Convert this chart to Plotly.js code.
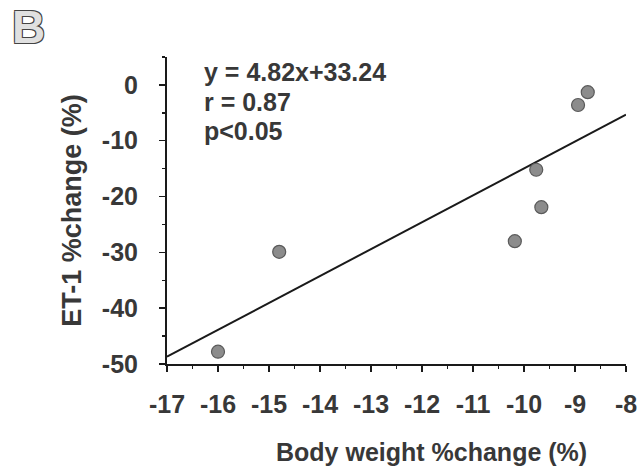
<!DOCTYPE html>
<html>
<head>
<meta charset="utf-8">
<script src="https://cdn.plot.ly/plotly-3.0.1.min.js"></script>
<style>html,body{margin:0;padding:0;background:#fff;}#chart{width:637px;height:469px;}</style>
</head>
<body>
<div id="chart"></div>
<script>
// Data
const bodyWeightChange = [-16.0, -14.8, -10.18, -9.76, -9.66, -8.94, -8.75];
const et1Change = [-47.8, -29.9, -28.0, -15.2, -21.9, -3.6, -1.3];
const fitSlope = [4.82];
const fitIntercept = [33.24];
const fitXRange = [-17, -8];
const statsLines = ["y = 4.82x+33.24", "r = 0.87", "p<0.05"];
const xTickVals = [-17, -16, -15, -14, -13, -12, -11, -10, -9, -8];
const xTickText = ["-17", "-16", "-15", "-14", "-13", "-12", "-11", "-10", "-9", "-8"];
const yTickVals = [0, -10, -20, -30, -40, -50];
const yTickText = ["0", "-10", "-20", "-30", "-40", "-50"];
const xTitle = "Body weight %change (%)";
const yTitle = "ET-1 %change (%)";
const panelLabel = "B";

const fitY = fitXRange.map(x => fitSlope[0] * x + fitIntercept[0]);
const FONT = "Liberation Sans, Arial, sans-serif";
const TXT = "#383838";
const PW = 459, PH = 307, L = 167, T = 57;

const traces = [
  {x: fitXRange, y: fitY, mode: "lines", type: "scatter",
   line: {color: "#1a1a1a", width: 2}, hoverinfo: "skip", showlegend: false},
  {x: bodyWeightChange, y: et1Change, mode: "markers", type: "scatter",
   marker: {size: 13, color: "#8c8c8c", line: {color: "#5a5a5a", width: 1.2}},
   showlegend: false}
];

const annotations = statsLines.map((t, i) => ({
  text: t, xref: "paper", yref: "paper", x: (202 - L) / PW, y: 1 - (72 + i * 29.5 - T) / PH,
  xanchor: "left", yanchor: "middle", showarrow: false,
  font: {family: FONT, size: 25, color: TXT, weight: "bold"}
}));
annotations.push({
  text: xTitle, xref: "paper", yref: "paper", x: (431 - L) / PW, y: 1 - (452 - T) / PH,
  xanchor: "center", yanchor: "middle", showarrow: false,
  font: {family: FONT, size: 25, color: TXT, weight: "bold"}
});
annotations.push({
  text: panelLabel, xref: "paper", yref: "paper", x: (10 - L) / PW, y: 1 + (T - 27) / PH,
  xanchor: "left", yanchor: "middle", showarrow: false,
  font: {family: FONT, size: 46, weight: "bold", color: "#e0e0e0",
         shadow: "1px 1px 0 #444, -1px -1px 0 #444, 1px -1px 0 #444, -1px 1px 0 #444"}
});

const layout = {
  width: 637, height: 469,
  margin: {l: L, r: 11, t: T, b: 105},
  paper_bgcolor: "#fff", plot_bgcolor: "#fff",
  showlegend: false,
  xaxis: {
    range: [-17, -8], tickmode: "array", tickvals: xTickVals, ticktext: xTickText,
    ticklabeloverflow: "allow",
    showgrid: false, zeroline: false, showline: true, linecolor: "#1a1a1a", linewidth: 2,
    ticks: "outside", ticklen: 6, tickwidth: 1.5, tickcolor: "#1a1a1a",
    minor: {dtick: 0.5, ticks: "outside", ticklen: 3, tickcolor: "#1a1a1a", showgrid: false},
    tickfont: {family: FONT, size: 25, color: TXT, weight: "bold"},
    ticklabelstandoff: 11
  },
  yaxis: {
    range: [-50, 5], tickmode: "array", tickvals: yTickVals, ticktext: yTickText,
    showgrid: false, zeroline: false, showline: true, linecolor: "#1a1a1a", linewidth: 2,
    ticks: "outside", ticklen: 6, tickwidth: 1.5, tickcolor: "#1a1a1a",
    minor: {dtick: 5, ticks: "outside", ticklen: 3, tickcolor: "#1a1a1a", showgrid: false},
    tickfont: {family: FONT, size: 25, color: TXT, weight: "bold"},
    ticklabelstandoff: 16,
    title: {text: yTitle, font: {family: FONT, size: 27, color: TXT, weight: "bold"}, standoff: 12}
  },
  annotations: annotations
};

Plotly.newPlot("chart", traces, layout, {displayModeBar: false, staticPlot: true});
</script>
</body>
</html>
